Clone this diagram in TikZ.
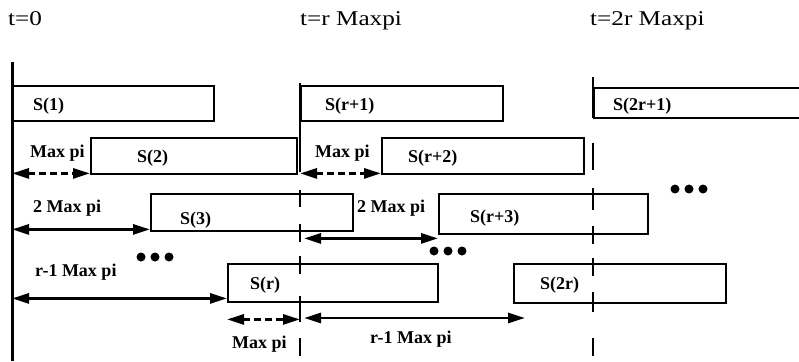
\documentclass[tikz,border=0pt]{standalone}
\usepackage{fontspec}
\setmainfont{Liberation Serif}
\newfontfamily\headfont{Liberation Serif}[FakeStretch=1.2]
\usetikzlibrary{arrows.meta}
\begin{document}
\begin{tikzpicture}[x=1pt,y=-1pt,
  slot/.style={draw, line width=2.4pt, inner sep=0pt, anchor=north west},
  slotlbl/.style={font=\bfseries\fontsize{18}{18}\selectfont, inner sep=0pt, anchor=base west},
  dimlbl/.style={font=\bfseries\fontsize{18}{18}\selectfont, inner sep=0pt, anchor=base west},
  timelbl/.style={font=\headfont\fontsize{21}{21}\selectfont, inner sep=0pt, anchor=base west},
  timeline/.style={line width=2.6pt},
  span/.style={line width=2.8pt, {Triangle[length=17pt,width=10pt]}-{Triangle[length=17pt,width=10pt]}},
  shortspan/.style={span, dash pattern=on 7pt off 4pt},
  dot/.style={fill=black}]
\useasboundingbox (0,0) rectangle (799,361);

% time marks
\node[timelbl] (h0) at (8,26) {t=0};
\node[timelbl] (h1) at (300,26) {t=r Maxpi};
\node[timelbl] (h2) at (590,26) {t=2r Maxpi};

\coordinate (ax0) at (12,62);
\coordinate (ax1) at (300,83);
\coordinate (ax2) at (593,77);

% start axis
\draw[line width=3pt] (ax0) -- (12,361);
% broken axes at r Maxpi and 2r Maxpi
\foreach \a/\b in {83/172,190/207,224/242,256/274,296/322,338/356}
  \draw[timeline] (300,\a) -- (300,\b);
\foreach \a/\b in {77/118,143/170,188/210,226/244,258/276,292/312,338/356}
  \draw[timeline] (593,\a) -- (593,\b);

% slots
\node[slot, minimum width=201pt, minimum height=35pt] (s1) at (12,85) {};
\node[slot, minimum width=202pt, minimum height=35pt] (sr1) at (300,85) {};
\node[slot, minimum width=212pt, minimum height=30pt] (s2r1) at (593,87) {};
\node[slot, minimum width=206pt, minimum height=36pt] (s2) at (90,137) {};
\node[slot, minimum width=202pt, minimum height=36pt] (sr2) at (381,137) {};
\node[slot, minimum width=202pt, minimum height=37pt] (s3) at (150,193) {};
\node[slot, minimum width=209pt, minimum height=40pt] (sr3) at (438,193) {};
\node[slot, minimum width=210pt, minimum height=38pt] (sr) at (227,263) {};
\node[slot, minimum width=212pt, minimum height=39pt] (s2r) at (513,263) {};

\node[slotlbl] (t1) at (33,110) {S(1)};
\node[slotlbl] (tr1) at (325,110) {S(r+1)};
\node[slotlbl] (t2r1) at (613,110) {S(2r+1)};
\node[slotlbl] (t2) at (137,162) {S(2)};
\node[slotlbl] (tr2) at (408,162) {S(r+2)};
\node[slotlbl] (t3) at (180,224) {S(3)};
\node[slotlbl] (tr3) at (470,222) {S(r+3)};
\node[slotlbl] (tr) at (250,289) {S(r)};
\node[slotlbl] (t2r) at (540,289) {S(2r)};

% offsets
\draw[shortspan] (ax0 |- s2.south) ++(0,-2) -- ([yshift=2pt]s2.south west);
\draw[shortspan] (ax1 |- s2.south) ++(0,-2) -- ([yshift=2pt]sr2.south west);
\draw[span] (ax0 |- s3.south) ++(0,-3) -- ([yshift=3pt]s3.south west);
\draw[span] (ax1 |- sr3.south) ++(4,3) -- ([yshift=-3pt]sr3.south west);
\draw[span] (ax0 |- sr.south) ++(0,-5) -- ([yshift=5pt]sr.south west);
\draw[shortspan] ([yshift=-16pt]sr.south west) -- ([yshift=-16pt]ax1 |- sr.south);
\coordinate (e7) at (525,318);
\draw[span] (304,318) -- (e7);

\node[dimlbl] (d1) at (30,157) {Max pi};
\node[dimlbl] (d2) at (315,157) {Max pi};
\node[dimlbl] (d3) at (33,212) {2 Max pi};
\node[dimlbl] (d4) at (357,212) {2 Max pi};
\node[dimlbl] (d5) at (35,276) {r-1 Max pi};
\node[dimlbl] (d6) at (232,348) {Max pi};
\node[dimlbl] (d7) at (370,343) {r-1 Max pi};

% ellipses
\foreach \x/\y in {675/189,434/251,141/257}{
  \fill[dot] (\x,\y) circle (4.5pt);
  \fill[dot] (\x+14,\y) circle (4.5pt);
  \fill[dot] (\x+28,\y) circle (4.5pt);
}
\end{tikzpicture}
\end{document}
